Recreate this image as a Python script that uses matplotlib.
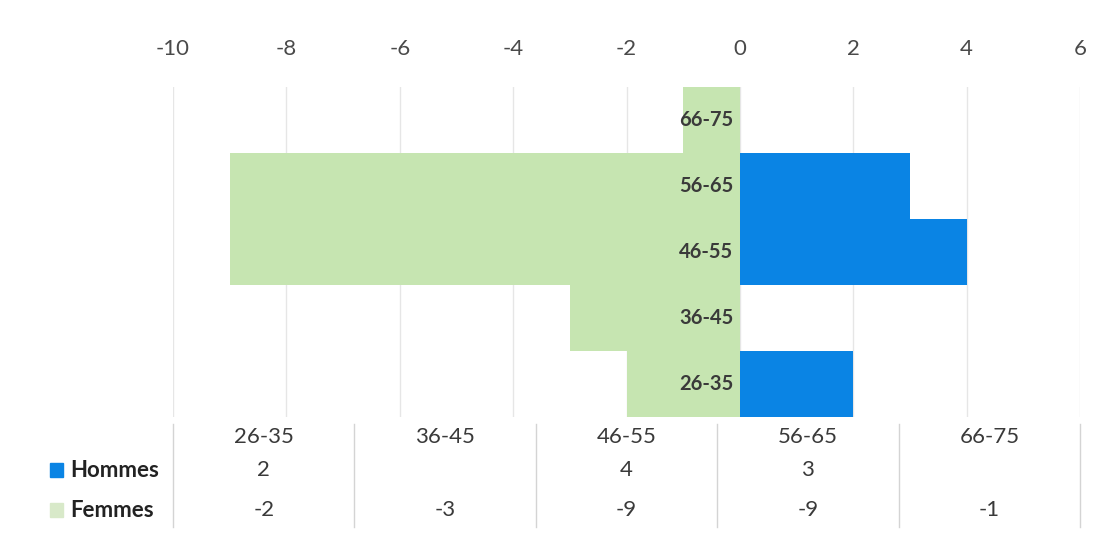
import numpy as np
import matplotlib.pyplot as plt
from matplotlib.patches import Rectangle
from matplotlib.transforms import blended_transform_factory

plt.rcParams['font.family'] = ['Lato', 'DejaVu Sans']

groups = ['26-35', '36-45', '46-55', '56-65', '66-75']
hommes = [2, 0, 4, 3, 0]
femmes = [-2, -3, -9, -9, -1]
xticks = [-10, -8, -6, -4, -2, 0, 2, 4, 6]

blue = '#0a84e4'
green = '#c6e5b1'
text_col = '#3a3a3a'

fig = plt.figure(figsize=(11.04, 5.58), dpi=100)
ax = fig.add_axes([0.1567, 0.2527, 0.8216, 0.5914])

y = np.arange(len(groups))
ax.barh(y, femmes, height=1.0, color=green, zorder=2)
ax.barh(y, hommes, height=1.0, color=blue, zorder=2)

for i, g in enumerate(groups):
    ax.text(-0.12, i, g, ha='right', va='center', fontsize=14.5,
            fontweight='bold', color=text_col, zorder=3)

ax.set(xlim=(-10, 6), ylim=(-0.5, len(groups) - 0.5), xticks=xticks, yticks=[])
ax.xaxis.tick_top()
ax.tick_params(axis='x', length=0, pad=20, labelsize=16, labelcolor='#4a4a4a')
ax.set_xticklabels([str(t) for t in xticks])
ax.grid(axis='x', color='#e6e6e6', linewidth=1, zorder=0)
for s in ax.spines.values():
    s.set_visible(False)

# data table under the chart
trans = blended_transform_factory(ax.transData, fig.transFigure)
ncol = len(groups)
edges = np.linspace(-10, 6, ncol + 1)
centers = (edges[:-1] + edges[1:]) / 2
row_y = [0.2168, 0.1577, 0.086]
for e in edges:
    ax.plot([e, e], [0.055, 0.24], transform=trans, color='#d4d4d4',
            linewidth=1, clip_on=False)
for j, g in enumerate(groups):
    ax.text(centers[j], row_y[0], g, transform=trans, ha='center', va='center',
            fontsize=16, color=text_col)
    if hommes[j] != 0:
        ax.text(centers[j], row_y[1], str(hommes[j]), transform=trans,
                ha='center', va='center', fontsize=16, color=text_col)
    ax.text(centers[j], row_y[2], str(femmes[j]), transform=trans,
            ha='center', va='center', fontsize=16, color=text_col)

for lab, col, yy in [('Hommes', blue, row_y[1]), ('Femmes', '#d8e9c9', row_y[2])]:
    fig.add_artist(Rectangle((0.0455, yy - 0.012), 0.0118, 0.024,
                             transform=fig.transFigure, color=col))
    fig.text(0.0635, yy, lab, ha='left', va='center', fontsize=16,
             fontweight='bold', color='#222222')

fig.savefig('out.png', dpi=100)
